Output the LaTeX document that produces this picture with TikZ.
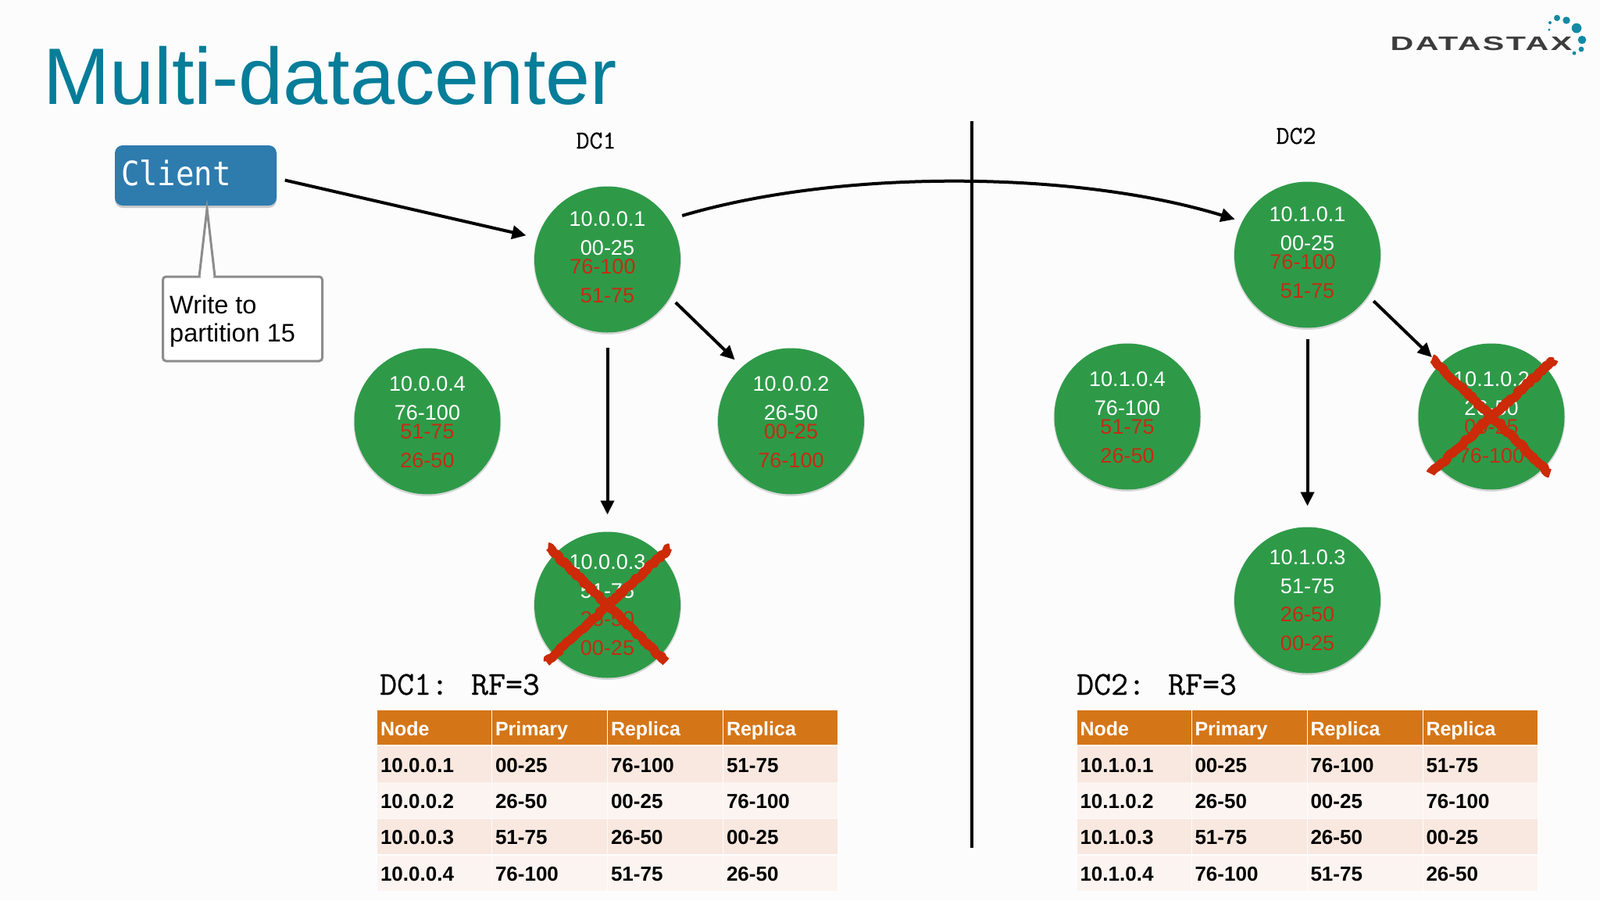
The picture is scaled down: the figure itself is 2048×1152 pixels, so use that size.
\documentclass[tikz,border=0pt]{standalone}
\usepackage{fontspec}
\setmainfont{Liberation Sans}
\newfontfamily\clientfont{DejaVu Sans Mono}
\newfontfamily\slabfont[FakeBold=0.5]{Latin Modern Mono}
\usetikzlibrary{arrows.meta,calc,shadows,decorations.pathmorphing}
\definecolor{bgc}{HTML}{FCFCFD}
\definecolor{titlec}{HTML}{067D99}
\definecolor{ringc}{HTML}{2E9A48}
\definecolor{redtxt}{HTML}{C42C12}
\definecolor{crossc}{HTML}{CC2A08}
\definecolor{clientc}{HTML}{2E7BAE}
\definecolor{headc}{HTML}{D47618}
\definecolor{rowa}{HTML}{F8E8DF}
\definecolor{rowb}{HTML}{FCF4F0}
\definecolor{dotc}{HTML}{128AA5}
\definecolor{logoc}{HTML}{3C3C3C}
\newcommand\fsz[1]{\fontsize{#1}{#1}\selectfont}
\tikzset{
  x=1pt,y=-1pt,
  ring/.style={circle,fill=ringc,minimum size=187pt,inner sep=0pt,outer sep=0pt,
    drop shadow={shadow xshift=0pt,shadow yshift=-1.5pt,opacity=.3,shadow scale=1.01}},
  iptxt/.style={text=white,font=\fsz{27},inner sep=0pt},
  redline/.style={text=redtxt,font=\fsz{27},inner sep=0pt},
  conn/.style={line width=4pt,draw=black,-{Triangle[length=18pt,width=17pt]}},
  divider/.style={line width=4pt,draw=black},
  crossline/.style={line width=11.5pt,draw=crossc,line join=round,decorate,
    decoration={random steps,segment length=3pt,amplitude=1.6pt}},
  clientbox/.style={fill=clientc,rounded corners=10pt,minimum width=207pt,minimum height=77pt,
    text width=191pt,inner xsep=7pt,inner ysep=0pt,outer sep=0pt,text height=25pt,text depth=0pt,
    text=white,font=\clientfont\fsz{39},
    drop shadow={shadow xshift=0pt,shadow yshift=-3pt,opacity=.4}},
  notebox/.style={draw=black!45,line width=3pt,fill=white,rounded corners=4pt,
    minimum width=204pt,minimum height=108pt,inner sep=0pt,outer sep=0pt},
  noteline/.style={draw=black!45,line width=3pt,line join=miter},
  notetext/.style={font=\fsz{32.5},align=left,inner sep=0pt},
  dclabel/.style={font=\slabfont\fsz{33},inner sep=0pt},
  rflabel/.style={font=\slabfont\fsz{42.6},inner sep=0pt,anchor=base west},
  titletxt/.style={font=\fsz{102.5},text=titlec,inner sep=0pt,anchor=base west},
  cell/.style={anchor=north west,inner xsep=4pt,inner ysep=0pt,outer sep=0pt,
    text height=20pt,text depth=0pt,font=\bfseries\fsz{26},minimum height=#1},
  headcell/.style={fill=headc,text=white,font=\bfseries\fsz{25}},
  rowacell/.style={fill=rowa,text=black},
  rowbcell/.style={fill=rowb,text=black},
  logodot/.style={fill=dotc,draw=none},
}
\def\cshift{0}
% name, x, y, shift, ip, b, c, d
\newcommand\ringA[8]{
  \node[ring] (#1) at (#2,#3) {};
  \node[iptxt]   (#1-a) at ($(#1)+(0,-48+#4)$) {#5};
  \node[iptxt]   (#1-b) at ($(#1)+(0,-11+#4)$) {#6};
  \node[redline] (#1-c) at ($(#1)+(\cshift,13+#4)$) {#7};
  \node[redline] (#1-d) at ($(#1)+(0,50+#4)$) {#8};
}
\newcommand\ringB[7]{
  \node[ring] (#1) at (#2,#3) {};
  \node[iptxt]   (#1-a) at ($(#1)+(0,-55)$) {#4};
  \node[iptxt]   (#1-b) at ($(#1)+(0,-18)$) {#5};
  \node[redline] (#1-c) at ($(#1)+(0,18)$) {#6};
  \node[redline] (#1-d) at ($(#1)+(0,55)$) {#7};
}
\newcommand\crossout[1]{
  \coordinate (#1-x1) at ($(#1)+(-76,-74)$);
  \coordinate (#1-x2) at ($(#1)+(75,73)$);
  \coordinate (#1-x3) at ($(#1)+(80,-73)$);
  \coordinate (#1-x4) at ($(#1)+(-78,73)$);
  \draw[crossline] (#1-x1) -- (#1-x2);
  \draw[crossline] (#1-x3) -- (#1-x4);
}
% name, xoff, ytop, height, style, c1..c4
\newcommand\tablerow[9]{
  \node[cell=#4,#5,minimum width=146pt,text width=138pt] (#1-1) at (483+#2,#3) {#6};
  \node[cell=#4,#5,minimum width=147pt,text width=139pt] (#1-2) at (630+#2,#3) {#7};
  \node[cell=#4,#5,minimum width=147pt,text width=139pt] (#1-3) at (778+#2,#3) {#8};
  \node[cell=#4,#5,minimum width=146pt,text width=138pt] (#1-4) at (926+#2,#3) {#9};
}
\newcommand\dctable[3]{
  \tablerow{#1h}{#2}{909}{44pt}{headcell}{Node}{Primary}{Replica}{Replica}
  \tablerow{#1a}{#2}{955}{46pt}{rowacell}{#3.1}{00-25}{76-100}{51-75}
  \tablerow{#1b}{#2}{1001}{46pt}{rowbcell}{#3.2}{26-50}{00-25}{76-100}
  \tablerow{#1c}{#2}{1048}{45pt}{rowacell}{#3.3}{51-75}{26-50}{00-25}
  \tablerow{#1d}{#2}{1095}{45pt}{rowbcell}{#3.4}{76-100}{51-75}{26-50}
}
\begin{document}
\begin{tikzpicture}
\fill[bgc] (0,0) rectangle (2048,1152);
\useasboundingbox (0,0) rectangle (2048,1152);

% title and logo
\node[titletxt] (title) at (55,133) {Multi-datacenter};
\node[inner sep=0pt,text=logoc] (logo) at (1896,56)
  {\scalebox{1.65}[1]{\addfontfeature{LetterSpace=6}\fsz{25}\bfseries DATASTAX}};
\foreach \i/\px/\py/\pr in {1/1993/23/4,2/2005/26/4.7,3/2018/36/6.3,4/2025/51/5.3,5/2024/63/3.4,6/2015/68/2.4,7/1984/29/2,8/1983/38/1.7}
  \fill[logodot] (\px,\py) circle[radius=\pr];

% client and note
\node[clientbox] (client) at (250.5,224.5) {\scalebox{1}[1.1]{Client}};
\coordinate (tip) at (265,267);
\coordinate (tailL) at (255,354);
\coordinate (tailR) at (275,354);
\node[notebox] (note) at (310.5,408) {};
\draw[fill=white,draw=none] (tailL) -- (tip) -- (tailR) -- cycle;
\draw[noteline] (tailL) -- (tip) -- (tailR);
\draw[white,line width=4pt] (257,354) -- (273,354);
\node[notetext,anchor=north west] (notetext) at (217,378) {Write to\\[3pt]partition 15};

% labels
\node[dclabel] (dc1) at (763,180) {DC1};
\node[dclabel] (dc2) at (1659,174) {DC2};
\node[rflabel] (rf1) at (486,889) {DC1: RF=3};
\node[rflabel] (rf2) at (1378,889) {DC2: RF=3};

% rings
\def\cshift{-6}
\ringA{n1}{777.5}{332}{-4}{10.0.0.1}{00-25}{76-100}{51-75}
\def\cshift{0}
\ringA{n2}{1012.5}{539}{0}{10.0.0.2}{26-50}{00-25}{76-100}
\ringB{n3}{777.5}{774}{10.0.0.3}{51-75}{26-50}{00-25}
\ringA{n4}{547}{539}{0}{10.0.0.4}{76-100}{51-75}{26-50}
\def\cshift{-6}
\ringA{m1}{1673.5}{326}{-4}{10.1.0.1}{00-25}{76-100}{51-75}
\def\cshift{0}
\ringA{m2}{1909}{533}{0}{10.1.0.2}{26-50}{00-25}{76-100}
\ringB{m3}{1673.5}{768}{10.1.0.3}{51-75}{26-50}{00-25}
\ringA{m4}{1443}{533}{0}{10.1.0.4}{76-100}{51-75}{26-50}

% divider
\coordinate (divtop) at (1244,155);
\coordinate (divbot) at (1244,1085);
\draw[divider] (divtop) -- (divbot);

% connectors
\draw[conn,shorten <=18pt,shorten >=10pt] (n1.33) .. controls (1080,215) and (1380,219) .. (m1.153);
\draw[conn,shorten <=11pt,shorten >=15pt] (client.-2) -- (n1.163);
\draw[conn,shorten <=10pt,shorten >=13pt] (n1.-31) -- (n2.132);
\draw[conn,shorten <=19pt,shorten >=22pt] (n1.south) -- (n3.north);
\draw[conn,shorten <=10pt,shorten >=14pt] (m1.-34) -- (m2.135);
\draw[conn,shorten <=14pt,shorten >=27pt] (m1.south) -- (m3.north);

% crosses
\crossout{n3}
\crossout{m2}

% tables
\dctable{ta}{0}{10.0.0}
\dctable{tb}{895.5}{10.1.0}
\end{tikzpicture}
\end{document}
